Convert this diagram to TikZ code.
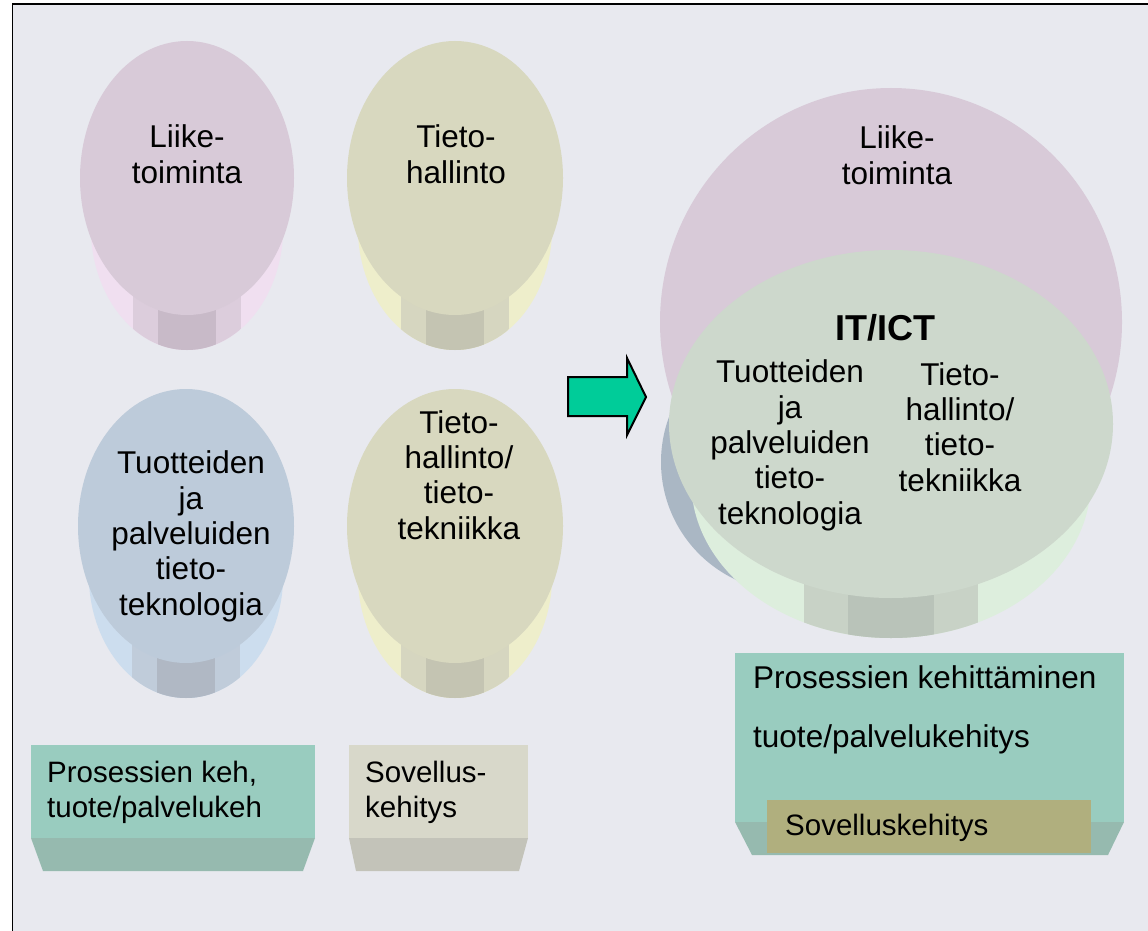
\documentclass[tikz,border=0pt]{standalone}
\usepackage{fontspec}
\setmainfont{Liberation Sans}
\definecolor{bgGray}{HTML}{E8E9EF}
\definecolor{pinkTop}{HTML}{D8CAD8}
\definecolor{pinkSide}{HTML}{F0DFF0}
\definecolor{pinkMid}{HTML}{DCCDDC}
\definecolor{pinkDark}{HTML}{C8BAC8}
\definecolor{oliveTop}{HTML}{D8D8BF}
\definecolor{oliveSide}{HTML}{EEEECB}
\definecolor{oliveMid}{HTML}{D6D6C0}
\definecolor{oliveDark}{HTML}{C4C4B2}
\definecolor{blueTop}{HTML}{BDCBDA}
\definecolor{blueSide}{HTML}{CCDDEE}
\definecolor{blueMid}{HTML}{C0CCDA}
\definecolor{blueDark}{HTML}{B0B8C4}
\definecolor{greenTop}{HTML}{CDD8CC}
\definecolor{greenSide}{HTML}{DDEEDD}
\definecolor{greenMid}{HTML}{C8D2C6}
\definecolor{greenDark}{HTML}{B9C3B9}
\definecolor{boxTop}{HTML}{99CCBF}
\definecolor{boxSide}{HTML}{96BAAF}
\definecolor{greyTop}{HTML}{D8D8CA}
\definecolor{greySide}{HTML}{C3C3B9}
\definecolor{appFill}{HTML}{B0AF7E}
\definecolor{arrowFill}{HTML}{00CC99}

\begin{document}
\begin{tikzpicture}[x=1pt, y=-1pt,
    every node/.style={font=\fontsize{31.5}{35.3}\selectfont, inner sep=0pt},
    cyltext/.style={align=center, anchor=base},
    boxtext/.style={align=left, anchor=base west, font=\fontsize{29.5}{35}\selectfont}]
    \useasboundingbox (0,0) rectangle (1148,931);
    \fill[bgGray] (12.5,4) rectangle (1148,931);
    \draw[line width=1.8pt] (12.5,931) -- (12.5,4) -- (1148,4);
    % oikea puoli: taustalla olevat ellipsit
    \fill[blueTop!90!black] (791,462) ellipse [x radius=130pt, y radius=130pt];
    \fill[pinkTop] (891,322) ellipse [x radius=231pt, y radius=234pt];
    % sylinterit: keskipiste / sateet / syvyys / raitojen puolileveys / vari
    \foreach \cx/\cy/\rx/\ry/\dp/\hm/\hd/\cl in {187/178/107/137/35/54/29/pink, 455/178/108/137/35/54/29/olive,
        186/526/108/137/35/54/29/blue, 455/526/108/137/35/54/29/olive, 891/424/222/174/40/87/43/green} {
        \begin{scope}
            \clip ({\cx-\rx},\cy) -- ({\cx-0.9*\rx},{\cy+0.1*\ry+\dp})
                arc [start angle=180, end angle=360, x radius=0.9*\rx pt, y radius=0.9*\ry pt]
                -- ({\cx+\rx},\cy) -- cycle;
            \fill[\cl Side] ({\cx-\rx-5},{\cy-5}) rectangle ({\cx+\rx+5},{\cy+\ry+\dp+5});
            \fill[\cl Mid] ({\cx-\hm},\cy) rectangle ({\cx+\hm},{\cy+\ry+\dp+5});
            \fill[\cl Dark] ({\cx-\hd},\cy) rectangle ({\cx+\hd},{\cy+\ry+\dp+5});
        \end{scope}
        \fill[\cl Top] (\cx,\cy) ellipse [x radius=\rx pt, y radius=\ry pt];
    }
    % tekstit (ankkuri = viimeisen rivin perusviiva)
    \node[cyltext] (liikeA) at (187,183) {Liike-\\toiminta};
    \node[cyltext] (tietoA) at (456,183) {Tieto-\\hallinto};
    \node[cyltext] (tuotA) at (191,615) {Tuotteiden\\ja\\palveluiden\\tieto-\\teknologia};
    \node[cyltext] (tietoB) at (459,539) {Tieto-\\hallinto/\\tieto-\\tekniikka};
    \node[cyltext] (liikeB) at (897,184) {Liike-\\toiminta};
    \node[cyltext, font=\bfseries\fontsize{36}{40}\selectfont] (ict) at (885,340) {IT/ICT};
    \node[cyltext] (tuotB) at (790,524) {Tuotteiden\\ja\\palveluiden\\tieto-\\teknologia};
    \node[cyltext] (tietoC) at (960,491) {Tieto-\\hallinto/\\tieto-\\tekniikka};
    % laatikot
    \fill[boxSide] (31,838) -- (315,838) -- (303,871) -- (43,871) -- cycle;
    \fill[boxTop] (31,745) rectangle (315,838);
    \node[boxtext] (procA) at (47,817) {Prosessien keh,\\tuote/palvelukeh};
    \fill[greySide] (349,838) -- (528,838) -- (519,871) -- (356,871) -- cycle;
    \fill[greyTop] (349,745) rectangle (528,838);
    \node[boxtext] (appA) at (365,817) {Sovellus-\\kehitys};
    \fill[boxSide] (735,822) -- (1124,822) -- (1108,855) -- (752,855) -- cycle;
    \fill[boxTop] (735,653) rectangle (1124,822);
    \node[boxtext, font=\fontsize{31.5}{59}\selectfont] (procB) at (753,747) {Prosessien kehittäminen\\tuote/palvelukehitys};
    \fill[appFill] (767,800) rectangle (1091,853);
    \node[anchor=base west, font=\fontsize{29.5}{35}\selectfont] (appB) at (785,835) {Sovelluskehitys};
    % nuoli
    \filldraw[fill=arrowFill, line width=2pt] (568,377) -- (627,377) -- (627,358) -- (646,397)
        -- (627,435) -- (627,416) -- (568,416) -- cycle;
\end{tikzpicture}
\end{document}
